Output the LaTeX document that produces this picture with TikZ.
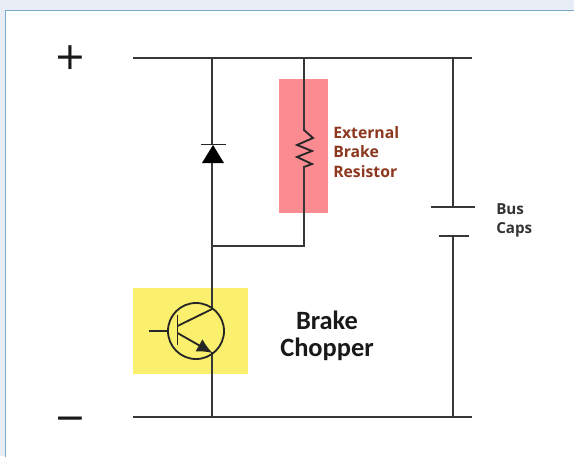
\documentclass[tikz,border=0pt]{standalone}
\usepackage{fontspec}
\setmainfont{Carlito}
\newfontfamily\labelfont{Open Sans}
\newfontfamily\signfont{DejaVu Sans}
\usetikzlibrary{arrows,arrows.meta,calc,positioning}
\tikzset{>=latex}
\definecolor{pagebg}{RGB}{233,237,246}
\definecolor{framecol}{RGB}{120,170,210}
\definecolor{wirecol}{RGB}{55,55,55}
\definecolor{resred}{RGB}{250,140,145}
\definecolor{chopyellow}{RGB}{250,240,110}
\definecolor{resbrown}{RGB}{140,55,30}
\tikzset{
	wire/.style={draw=wirecol, line width=1.8pt},
	thinwire/.style={draw=black!85, line width=1.3pt},
	signlabel/.style={font=\signfont\fontsize{27}{27}\selectfont, inner sep=0pt, text=black!90},
	capslabel/.style={font=\labelfont\fontsize{10.8}{14}\selectfont\bfseries, align=left, inner sep=0pt, text=black!80},
	reslabel/.style={font=\labelfont\fontsize{11.2}{13.8}\selectfont\bfseries, align=left, inner sep=0pt, text=resbrown},
	choplabel/.style={font=\fontsize{18.8}{19}\selectfont\bfseries, align=center, inner sep=0pt, text=black!90}
}
\begin{document}
\begin{tikzpicture}[x=0.025cm,y=-0.025cm]
	\useasboundingbox (0,0) rectangle (574,456);
	\fill[pagebg] (0,0) rectangle (574,456);
	\fill[white, draw=framecol, line width=1pt] (5.5,10.5) rectangle (590,470);
	% coloured boxes
	\fill[resred] (279,79) rectangle (328,213);
	\fill[chopyellow] (133,288) rectangle (248,374);
	% rails
	\coordinate (topl) at (133,58);
	\coordinate (topr) at (472,58);
	\coordinate (botl) at (133,417);
	\coordinate (botr) at (472,417);
	\draw[wire] (topl) -- (topr);
	\draw[wire] (botl) -- (botr);
	\node[signlabel] (plus) at (70,58) {+};
	\node[signlabel] (minus) at (70,423.5) {−};
	% diode leg
	\draw[wire] (212.2,58) -- (212.2,144);
	\draw[wire] (212.2,163) -- (212.2,310);
	\draw[wire] (212.2,352) -- (212.2,417);
	\draw[thinwire] (201,144.5) -- (226,144.5);
	\fill[black] (213,145) -- (202,163) -- (224,163) -- cycle;
	% resistor leg
	\draw[wire] (304,58) -- (304,131);
	\draw[thinwire, line join=miter] (304,130) -- (313,138) -- (297,145) -- (312,151) -- (297,157) -- (312,164) -- (304,167);
	\draw[wire] (304,166) -- (304,246) -- (212.2,246);
	% transistor
	\node[circle, draw=black!85, line width=1.3pt, minimum size=1.4cm, inner sep=0pt] (tr) at (196,331) {};
	\draw[thinwire] (149,331) -- (tr.west);
	\draw[thinwire] (177.5,315) -- (177.5,345);
	\draw[thinwire] (177.5,326) -- (212.2,309);
	\draw[thinwire, -{Latex[length=11pt,width=10pt]}] (177.5,333) -- (212.5,353);
	% bus caps
	\draw[wire] (453,58) -- (453,207);
	\draw[wire] (431,207) -- (475,207);
	\draw[wire] (439,236) -- (469,236);
	\draw[wire] (453,236) -- (453,417);
	% labels
	\node[reslabel, anchor=north west] (reslab) at (333,126) {External\\Brake\\Resistor};
	\node[capslabel, anchor=north west] (capslab) at (496,203) {Bus\\Caps};
	\node[choplabel] (choplab) at (327,335.5) {Brake\\Chopper};
\end{tikzpicture}
\end{document}
